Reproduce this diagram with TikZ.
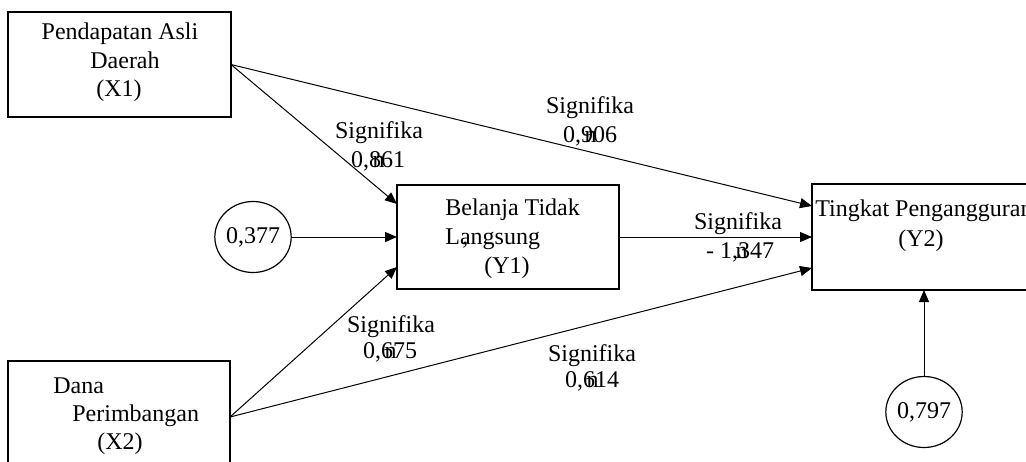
\documentclass[tikz,border=0pt]{standalone}
\usepackage{fontspec}
\setmainfont{Liberation Serif}
\usetikzlibrary{arrows.meta,shapes.geometric,calc}
\begin{document}
\begin{tikzpicture}[x=0.5pt,y=-0.5pt,
  box/.style={draw,line width=0.6pt,rectangle,inner sep=0pt,outer sep=0pt},
  oval/.style={draw,line width=0.6pt,ellipse,inner sep=0pt,outer sep=0pt,
    minimum width=33pt,minimum height=35.5pt,font=\fontsize{12}{14}\selectfont},
  txt/.style={anchor=base,inner sep=0pt,font=\fontsize{12}{14}\selectfont},
  txtw/.style={txt,anchor=base west},
  conn/.style={line width=0.5pt,-{Triangle[length=6pt,width=5pt]}}]
\useasboundingbox (0,0) rectangle (1026,461);
\clip (0,0) rectangle (1026,461);
\fill[white] (0,0) rectangle (1026,461);
% boxes
\node[box,minimum width=111.5pt,minimum height=52.5pt] (x1) at (119.5,64.5) {};
\node[box,minimum width=111pt,minimum height=52.5pt] (x2) at (119,413.5) {};
\node[box,minimum width=111pt,minimum height=52pt] (y1) at (508,237) {};
\node[box,minimum width=109pt,minimum height=53pt] (y2) at (921,237) {};
\node[oval] (e1) at (253,237) {0,377};
\node[oval,minimum width=33.5pt] (e2) at (924,412) {0,797};
% box texts
\node[txt] (x1a) at (120,39) {Pendapatan Asli};
\node[txt] (x1b) at (125,68) {Daerah};
\node[txt] (x1c) at (119,96) {(X1)};
\node[txtw] (y1a) at (445,215) {Belanja Tidak};
\node[txtw] (y1b) at (445,244) {L\rlap{\kern0.1em ,}angsung};
\node[txt] (y1c) at (507,273) {(Y1)};
\node[txtw] (y2a) at (815,216) {Tingkat Pengangguran};
\node[txt] (y2b) at (921,246) {(Y2)};
\node[txtw] (x2a) at (53,393) {Dana};
\node[txtw] (x2b) at (72,421) {Perimbangan};
\node[txtw] (x2c) at (97,449) {(X2)};
% connectors
\draw[conn] (x1.east) -- ([yshift=16.5pt]y1.west);
\draw[conn] (x1.east) -- ([yshift=15.5pt]y2.west);
\draw[conn] (e1) -- (y1.west);
\draw[conn] ([yshift=-1.75pt]x2.east) -- ([yshift=-15pt]y1.west);
\draw[conn] ([yshift=-1.75pt]x2.east) -- ([yshift=-15.5pt]y2.west);
\draw[conn] (y1.east) -- (y2.west);
\draw[conn] (e2.north) -- (e2.north |- y2.south);
% labels
\node[txt] (l1a) at (379,138) {Signifika};
\node[txt] (l1b) at (378,167) {0,\rlap{\kern0.15em n}861};
\node[txt] (l2a) at (590,113) {Signifika};
\node[txt] (l2b) at (590,142) {0,\rlap{\kern0.15em n}906};
\node[txt] (l3a) at (738,229) {Signifika};
\node[txt] (l3b) at (740,258) {- 1,\rlap{\kern-0.1em n}347};
\node[txt] (l4a) at (391,332) {Signifika};
\node[txt] (l4b) at (390,358) {0,\rlap{\kern0.15em n}675};
\node[txt] (l5a) at (592,361) {Signifika};
\node[txt] (l5b) at (592,387) {0,\rlap{\kern0.15em n}614};
\end{tikzpicture}
\end{document}
